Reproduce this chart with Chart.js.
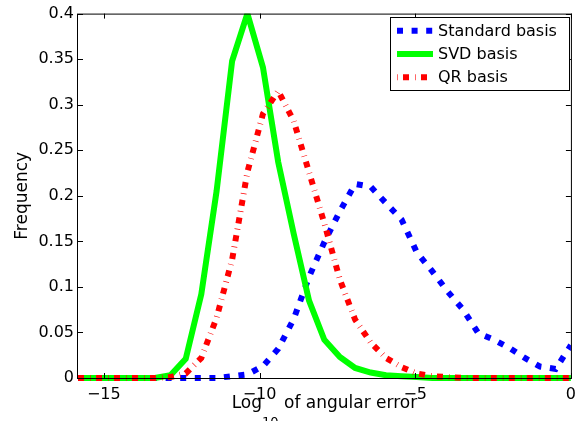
<!DOCTYPE html>
<html><head><meta charset="utf-8">
<script src="https://cdn.jsdelivr.net/npm/chart.js@4.4.1/dist/chart.umd.min.js"></script>
<style>html,body{margin:0;padding:0;background:#fff;} #wrap{width:583px;height:421px;}</style>
</head><body><div id="wrap"><canvas id="c" width="583" height="421"></canvas></div>
<script>
// ---- data ----
const binCenters = [-15.83,-15.34,-14.84,-14.35,-13.85,-13.36,-12.86,-12.37,-11.87,-11.38,-10.88,-10.39,-9.89,-9.40,-8.90,-8.41,-7.92,-7.42,-6.93,-6.43,-5.94,-5.44,-4.95,-4.45,-3.96,-3.46,-2.97,-2.47,-1.98,-1.48,-0.99,-0.49,0];
const standardBasis = [0,0,0,0,0,0,0,0,0,0,0.002,0.004,0.013,0.032,0.065,0.111,0.149,0.183,0.213,0.210,0.192,0.174,0.138,0.117,0.095,0.075,0.049,0.042,0.033,0.022,0.0125,0.010,0.036];
const svdBasis = [0,0,0,0,0,0,0.003,0.021,0.092,0.205,0.348,0.400,0.341,0.237,0.158,0.085,0.042,0.023,0.011,0.006,0.003,0.002,0.001,0,0,0,0,0,0,0,0,0,0];
const qrBasis = [0,0,0,0,0,0,0.001,0.005,0.022,0.066,0.130,0.226,0.290,0.315,0.282,0.226,0.170,0.108,0.064,0.039,0.022,0.012,0.005,0.002,0.001,0,0,0,0,0,0,0,0];
const seriesNames = ['Standard basis','SVD basis','QR basis'];
const xTickValues = [-15,-10,-5,0];
const xTickLabels = ['\u221215','\u221210','\u22125','0'];
const yTickValues = [0,0.05,0.1,0.15,0.2,0.25,0.3,0.35,0.4];
const yTickLabels = ['0','0.05','0.1','0.15','0.2','0.25','0.3','0.35','0.4'];
const xTitleMain = 'Log', xTitleSub = '10', xTitleRest = ' of angular error';
const yTitle = 'Frequency';

const FONT = '"DejaVu Sans"';
const legendDashOffsets = [0, 0, 12];

const frameAndLegend = {
  id: 'frameAndLegend',
  afterDraw(chart) {
    const {ctx, chartArea: a, scales: {x, y}} = chart;
    ctx.save();
    ctx.strokeStyle = '#000'; ctx.lineWidth = 1; ctx.setLineDash([]);
    ctx.strokeRect(a.left - 0.5, a.top + 0.5, a.right - a.left + 1, a.bottom - a.top);
    const tl = 5;
    ctx.beginPath();
    x.ticks.forEach(t => {
      const px = Math.round(x.getPixelForValue(t.value)) + 0.5;
      ctx.moveTo(px, a.bottom); ctx.lineTo(px, a.bottom - tl);
      ctx.moveTo(px, a.top); ctx.lineTo(px, a.top + tl);
    });
    y.ticks.forEach(t => {
      const py = Math.round(y.getPixelForValue(t.value)) + 0.5;
      ctx.moveTo(a.left, py); ctx.lineTo(a.left + tl, py);
      ctx.moveTo(a.right, py); ctx.lineTo(a.right - tl, py);
    });
    ctx.stroke();

    // x title with subscript
    ctx.fillStyle = '#000'; ctx.textBaseline = 'alphabetic'; ctx.textAlign = 'left';
    const mainF = '17px ' + FONT, subF = '13px ' + FONT;
    ctx.font = mainF; const w1 = ctx.measureText(xTitleMain).width, w3 = ctx.measureText(xTitleRest).width;
    ctx.font = subF; const w2 = ctx.measureText(xTitleSub).width;
    let tx = (a.left + a.right) / 2 - (w1 + w2 + w3) / 2;
    ctx.font = mainF; ctx.fillText(xTitleMain, tx, 407.5); tx += w1;
    ctx.font = subF; ctx.fillText(xTitleSub, tx, 426); tx += w2;
    ctx.font = mainF; ctx.fillText(xTitleRest, tx, 407.5);

    // y title
    ctx.save();
    ctx.translate(26.5, (a.top + a.bottom) / 2);
    ctx.rotate(-Math.PI / 2);
    ctx.textAlign = 'center';
    ctx.font = mainF;
    ctx.fillText(yTitle, 0, 0);
    ctx.restore();

    // legend
    ctx.fillStyle = '#fff';
    ctx.fillRect(390, 17, 180, 73);
    ctx.strokeStyle = '#000'; ctx.lineWidth = 1;
    ctx.strokeRect(390.5, 17.5, 179, 73);
    const rows = [30.7, 54, 77.3];
    chart.data.datasets.forEach((ds, i) => {
      ctx.save();
      ctx.beginPath();
      ctx.rect(391, 18, 178, 72); ctx.clip();
      ctx.strokeStyle = ds.borderColor; ctx.lineWidth = ds.borderWidth; ctx.lineCap = 'butt';
      ctx.setLineDash(ds.borderDash || []); ctx.lineDashOffset = legendDashOffsets[i];
      ctx.beginPath(); ctx.moveTo(397, rows[i]); ctx.lineTo(433, rows[i]); ctx.stroke();
      ctx.restore();
      ctx.fillStyle = '#000'; ctx.font = '16px ' + FONT; ctx.textBaseline = 'middle'; ctx.textAlign = 'left';
      ctx.fillText(ds.label, 438, rows[i] + 1);
    });
    ctx.restore();
  }
};

const clipOpt = {left: 0, right: 0, top: 0, bottom: 4};
new Chart(document.getElementById('c'), {
  type: 'line',
  data: {
    datasets: [
      {label: seriesNames[0], data: binCenters.map((v, i) => ({x: v, y: standardBasis[i]})),
       borderColor: 'rgb(0,0,255)', borderWidth: 6, borderDash: [6, 8.6], borderCapStyle: 'butt', order: 3, clip: clipOpt},
      {label: seriesNames[1], data: binCenters.map((v, i) => ({x: v, y: svdBasis[i]})),
       borderColor: 'rgb(0,255,0)', borderWidth: 6, borderCapStyle: 'butt', order: 2, clip: clipOpt},
      {label: seriesNames[2], data: binCenters.map((v, i) => ({x: v, y: qrBasis[i]})),
       borderColor: 'rgb(255,0,0)', borderWidth: 6, borderDash: [6, 6, 0.6, 5.4], borderCapStyle: 'butt', order: 1, clip: clipOpt}
    ]
  },
  options: {
    responsive: false, animation: false, devicePixelRatio: 1,
    layout: {padding: {top: 11, right: 7, left: 0, bottom: 0}},
    elements: {point: {radius: 0, hoverRadius: 0}, line: {tension: 0, fill: false, borderJoinStyle: 'miter'}},
    plugins: {legend: {display: false}, tooltip: {enabled: false}},
    scales: {
      x: {
        type: 'linear', min: -15.83, max: 0,
        grid: {display: false, drawTicks: false}, border: {display: false},
        afterBuildTicks: s => { s.ticks = xTickValues.map(v => ({value: v})); },
        afterFit: s => { s.height = 43; },
        ticks: {padding: 7, color: '#000', font: {family: 'DejaVu Sans', size: 16}, maxRotation: 0, autoSkip: false,
                callback: (v, i) => xTickLabels[i]}
      },
      y: {
        type: 'linear', min: 0, max: 0.4,
        grid: {display: false, drawTicks: false}, border: {display: false},
        afterBuildTicks: s => { s.ticks = yTickValues.map(v => ({value: v})); },
        afterFit: s => { s.width = 78; },
        ticks: {padding: 4, color: '#000', font: {family: 'DejaVu Sans', size: 16}, autoSkip: false,
                callback: (v, i) => yTickLabels[i]}
      }
    }
  },
  plugins: [frameAndLegend]
});
</script>
</body></html>
